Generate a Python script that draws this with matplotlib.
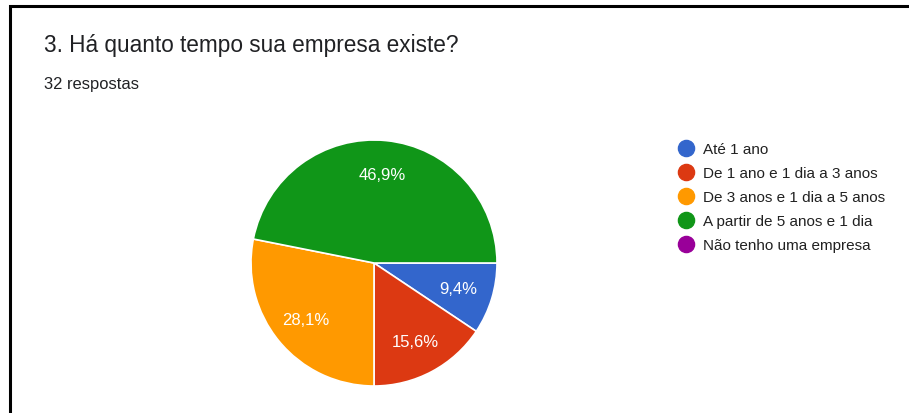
import matplotlib
matplotlib.use("Agg")
import matplotlib.pyplot as plt
from matplotlib.patches import Rectangle

TITLE = "3. Há quanto tempo sua empresa existe?"
SUBTITLE = "32 respostas"
CATEGORIES = ["Até 1 ano", "De 1 ano e 1 dia a 3 anos", "De 3 anos e 1 dia a 5 anos",
              "A partir de 5 anos e 1 dia", "Não tenho uma empresa"]
COUNTS = [3, 5, 9, 15, 0]
COLORS = ["#3366cc", "#dc3912", "#ff9900", "#109618", "#990099"]

W, H = 909, 414
plt.rcParams["font.family"] = ["Liberation Sans", "DejaVu Sans"]

fig = plt.figure(figsize=(W / 100, H / 100), dpi=100)
fig.patch.set_facecolor("white")


def px(x, y):
    return x / W, 1 - y / H


# frame around the card (left and top edges visible)
fig.add_artist(Rectangle(px(10, 480), (W + 100) / W, 473 / H, transform=fig.transFigure,
                         fill=False, edgecolor="black", linewidth=2.2))

fig.text(*px(44, 52), TITLE, fontsize=16.3, color="#202124", va="baseline", ha="left")
fig.text(*px(44, 89), SUBTITLE, fontsize=11.9, color="#202124", va="baseline", ha="left")

# pie
cx, cy, r = 374, 264, 123
ax = fig.add_axes([(cx - r) / W, (H - cy - r) / H, 2 * r / W, 2 * r / H])
vals = [c for c in COUNTS if c > 0]
cols = [COLORS[i] for i, c in enumerate(COUNTS) if c > 0]
wedges, texts, autotexts = ax.pie(
    vals, colors=cols, startangle=0, counterclock=False,
    autopct=lambda p: f"{p:.1f}%".replace(".", ","), pctdistance=0.72,
    wedgeprops=dict(edgecolor="white", linewidth=1.2),
    textprops=dict(color="white", fontsize=12))
ax.set_xlim(-1, 1)
ax.set_ylim(-1, 1)

# legend
lax = fig.add_axes([678 / W, (H - 257) / H, (W - 678) / W, 120 / H])
lax.set_xlim(0, W - 678)
lax.set_ylim(len(CATEGORIES), 0)
lax.axis("off")
for i, (lab, col) in enumerate(zip(CATEGORIES, COLORS)):
    lax.scatter([8], [i + 0.5], s=135, color=col, clip_on=False)
    lax.text(25, i + 0.55, lab, fontsize=11, color="#212121", va="center", ha="left")

fig.savefig("out.png", dpi=100)
